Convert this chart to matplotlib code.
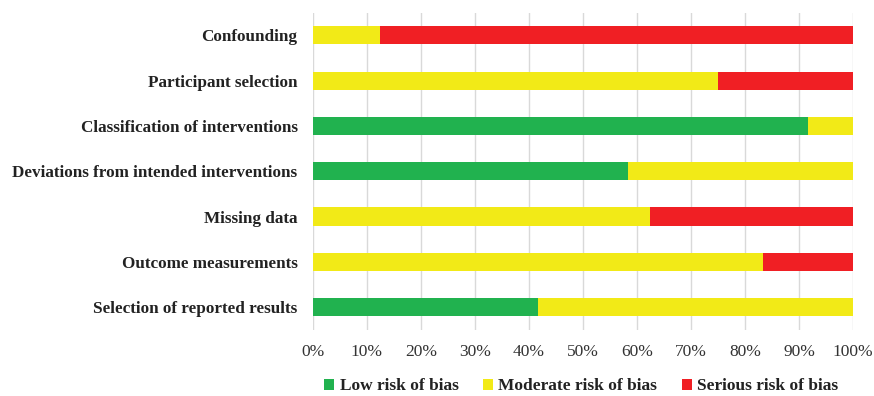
import numpy as np
import matplotlib.pyplot as plt

domains = [
    "Confounding",
    "Participant selection",
    "Classification of interventions",
    "Deviations from intended interventions",
    "Missing data",
    "Outcome measurements",
    "Selection of reported results",
]
low = [0, 0, 91.7, 58.3, 0, 0, 41.7]
moderate = [12.5, 75.0, 8.3, 41.7, 62.5, 83.3, 58.3]
serious = [87.5, 25.0, 0, 0, 37.5, 16.7, 0]

series = ["Low risk of bias", "Moderate risk of bias", "Serious risk of bias"]
colors = ["#21B24F", "#F2EA17", "#F01F24"]

plt.rcParams["font.family"] = ["Liberation Serif", "DejaVu Serif"]

fig = plt.figure(figsize=(8.74, 3.96), dpi=100)
ax = fig.add_axes([0.358, 0.167, 0.618, 0.800])

y = np.arange(len(domains))
left = np.zeros(len(domains))
for vals, name, c in zip([low, moderate, serious], series, colors):
    vals = np.array(vals)
    ax.barh(y, vals, left=left, height=0.4, color=c, label=name, zorder=3)
    left += vals

ax.set_xlim(0, 100)
ax.set_ylim(len(domains) - 0.5, -0.49)
ax.set_xticks(np.arange(0, 101, 10))
ax.set_xticklabels([f"{v}%" for v in range(0, 101, 10)], fontsize=12.5, color="#333333")
ax.set_yticks(y)
ax.set_yticklabels(domains, fontsize=12.3, fontweight="bold", color="#222222")
ax.tick_params(axis="both", length=0)
ax.tick_params(axis="x", pad=10)
ax.tick_params(axis="y", pad=11)
ax.grid(axis="x", color="#D9D9D9", linewidth=1, zorder=0)
for s in ax.spines.values():
    s.set_visible(False)

leg = fig.legend(loc="center", bbox_to_anchor=(0.665, 0.024), ncol=3, frameon=False,
                 prop={"size": 12.5, "weight": "bold"}, handlelength=0.6, handleheight=0.6,
                 handletextpad=0.3, columnspacing=1.4)
for t in leg.get_texts():
    t.set_color("#222222")

fig.savefig("out.png", dpi=100)
